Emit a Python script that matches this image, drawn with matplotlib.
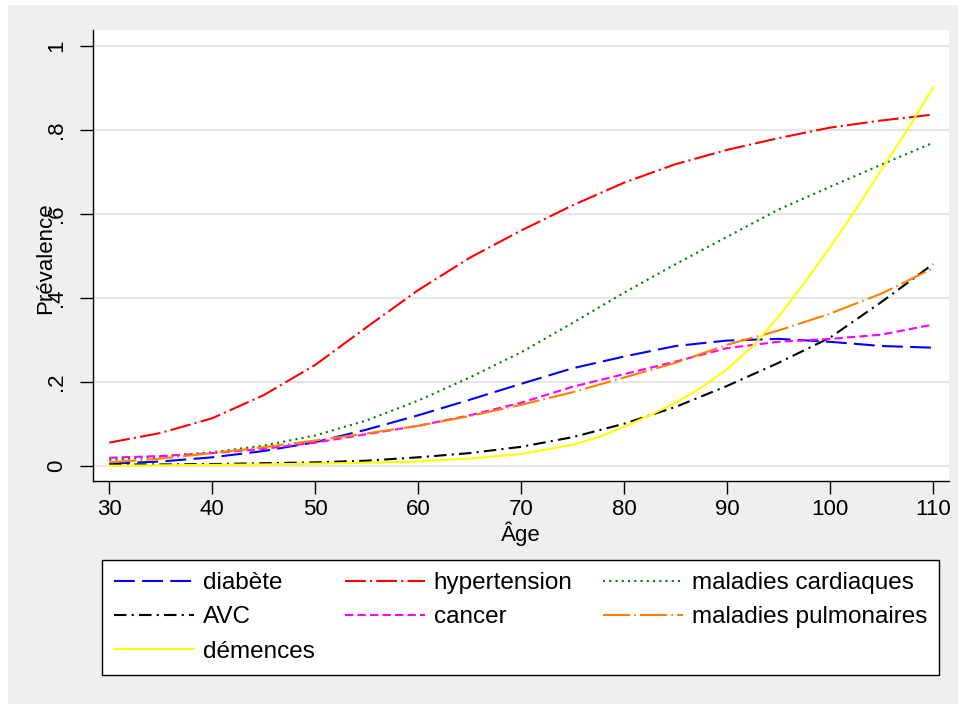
import matplotlib
matplotlib.use("Agg")
import matplotlib.pyplot as plt
from matplotlib.patches import Rectangle

plt.rcParams["font.family"] = ["Liberation Sans", "DejaVu Sans"]

BG_GRAY = "#efefef"

# prevalence by age
ages = [30, 35, 40, 45, 50, 55, 60, 65, 70, 75, 80, 85, 90, 95, 100, 105, 110]
diabete = [0.005, 0.01, 0.02, 0.035, 0.056, 0.086, 0.12, 0.157, 0.195, 0.232, 0.26, 0.285, 0.298, 0.302, 0.295, 0.285, 0.281]
hypertension = [0.055, 0.078, 0.113, 0.168, 0.24, 0.33, 0.418, 0.495, 0.56, 0.62, 0.674, 0.718, 0.752, 0.78, 0.805, 0.822, 0.836]
cardiaques = [0.014, 0.022, 0.032, 0.048, 0.072, 0.108, 0.155, 0.21, 0.27, 0.34, 0.412, 0.48, 0.545, 0.61, 0.664, 0.717, 0.769]
avc = [0.003, 0.003, 0.004, 0.006, 0.008, 0.012, 0.02, 0.03, 0.045, 0.068, 0.1, 0.14, 0.19, 0.245, 0.305, 0.39, 0.48]
cancer = [0.019, 0.023, 0.03, 0.04, 0.055, 0.075, 0.095, 0.12, 0.15, 0.188, 0.218, 0.248, 0.28, 0.295, 0.302, 0.312, 0.336]
pulmonaires = [0.008, 0.017, 0.03, 0.044, 0.06, 0.077, 0.095, 0.118, 0.145, 0.175, 0.21, 0.245, 0.288, 0.322, 0.362, 0.41, 0.47]

# démences curves steeply at the end, so it is read more finely there
ages_dem = [30, 35, 40, 45, 50, 55, 60, 65, 70, 75, 77.5, 80, 82.5, 85, 87.5, 90,
            92.5, 95, 97.5, 100, 102.5, 105, 107.5, 110]
demences = [0.0, 0.001, 0.002, 0.003, 0.005, 0.007, 0.01, 0.017, 0.028, 0.05, 0.068, 0.093, 0.12,
            0.15, 0.186, 0.23, 0.285, 0.355, 0.435, 0.52, 0.61, 0.705, 0.8, 0.9]

xticks = [30, 40, 50, 60, 70, 80, 90, 100, 110]
yticks = [0, 0.2, 0.4, 0.6, 0.8, 1.0]
ytick_labels = ["0", ".2", ".4", ".6", ".8", "1"]

W, H = 964, 704
fig = plt.figure(figsize=(W / 100, H / 100), dpi=100)
fig.patch.set_facecolor("white")
fig.patches.append(Rectangle((8 / W, 0), (958 - 8) / W, (H - 5) / H,
                             transform=fig.transFigure, facecolor=BG_GRAY,
                             edgecolor="none", zorder=-10))

ax = fig.add_axes([93 / W, 1 - 481 / H, (949 - 93) / W, (481 - 30) / H])
ax.set_facecolor("white")

series = [
    ("diabète", ages, diabete, "#0000ff", (0, (10, 3.5))),
    ("hypertension", ages, hypertension, "#ff0000", (0, (10, 2, 1, 2))),
    ("maladies cardiaques", ages, cardiaques, "#008000", (0, (1, 2))),
    ("AVC", ages, avc, "black", (0, (6, 2.5, 1, 2.5))),
    ("cancer", ages, cancer, "#ff00ff", (0, (4, 2))),
    ("maladies pulmonaires", ages, pulmonaires, "#ff7f00", (0, (13, 2, 0.8, 2))),
    ("démences", ages_dem, demences, "#ffff00", "-"),
]

lines = {}
for name, xs, vals, color, ls in series:
    ln, = ax.plot(xs, vals, color=color, linestyle=ls, linewidth=1.5)
    lines[name] = ln

ax.set_xlim(28.42, 111.55)
ax.set_ylim(-0.0364, 1.0374)
ax.set_xticks(xticks)
ax.set_yticks(yticks)
ax.set_yticklabels(ytick_labels, rotation=90, va="center")
ax.tick_params(axis="both", direction="out", length=9.5, width=1.0,
               colors="black", labelsize=16)
ax.tick_params(axis="y", pad=9)
ax.tick_params(axis="x", pad=3.5)

ax.yaxis.grid(True, color="#e6e6e6", linewidth=1.5)
ax.set_axisbelow(True)
for side in ["top", "right"]:
    ax.spines[side].set_visible(False)
for side in ["left", "bottom"]:
    ax.spines[side].set_color("black")
    ax.spines[side].set_linewidth(1.0)

ax.set_xlabel("Âge", fontsize=16, labelpad=1)
fig.text(46 / W, 1 - 258 / H, "Prévalence", rotation=90, fontsize=16,
         ha="center", va="center")

order = ["diabète", "AVC", "démences", "hypertension", "cancer",
         "maladies cardiaques", "maladies pulmonaires"]
leg = fig.legend([lines[n] for n in order], order, ncol=3, loc="upper left",
                 bbox_to_anchor=(102 / W, 1 - 560 / H), fontsize=17.5,
                 frameon=True, fancybox=False, handlelength=3.3,
                 handletextpad=0.35, columnspacing=1.25, labelspacing=0.5,
                 borderpad=0.5, borderaxespad=0)
leg.get_frame().set_edgecolor("black")
leg.get_frame().set_linewidth(1.0)
leg.get_frame().set_facecolor("white")
leg.get_frame().set_alpha(1)

fig.savefig("out.png", dpi=100, facecolor=fig.get_facecolor())
